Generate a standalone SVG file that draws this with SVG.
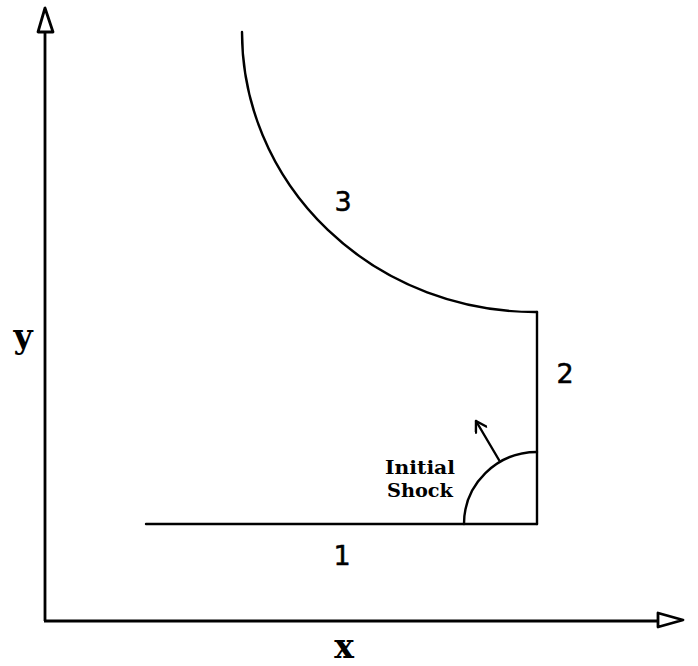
<svg xmlns="http://www.w3.org/2000/svg" width="698" height="666" viewBox="0 0 698 666">
<style>
.ln{fill:none;stroke:#000;stroke-width:2.4;stroke-linecap:round;stroke-linejoin:round}
.ax{fill:none;stroke:#000;stroke-width:2.8}
.head{fill:#fff;stroke:#000;stroke-width:2.8;stroke-linejoin:round}
.num{font-family:"DejaVu Sans",sans-serif;font-size:27px;fill:#000;stroke:#000;stroke-width:0.5;text-anchor:middle}
.axl{font-family:"DejaVu Serif",serif;font-weight:bold;font-size:33px;fill:#000;text-anchor:middle}
.lab{font-family:"DejaVu Serif",serif;font-weight:bold;font-size:19px;fill:#000}
</style>
<defs>
<marker id="vee" markerWidth="14" markerHeight="14" refX="12" refY="7" orient="auto" markerUnits="userSpaceOnUse">
<path d="M2,1 L12,7 L2,13" fill="none" stroke="#000" stroke-width="2.4" stroke-linecap="round" stroke-linejoin="round"/>
</marker>
</defs>
<rect width="698" height="666" fill="#fff"/>
<g id="axes">
<line class="ax" x1="45" y1="32" x2="45" y2="621"/>
<line class="ax" x1="44" y1="621" x2="658" y2="621"/>
<polygon class="head" points="45,8 38,32 53,32"/>
<polygon class="head" points="683,620 658,613 658,627"/>
<text class="axl" x="344" y="658">x</text>
<text class="axl" x="23" y="348">y</text>
</g>
<g id="boundaries">
<line class="ln" x1="146" y1="524" x2="537" y2="524"/>
<line class="ln" x1="537" y1="312" x2="537" y2="524"/>
<path class="ln" d="M242,32 A293,280 0 0 0 535,312 L537,312"/>
<text class="num" x="342" y="565">1</text>
<text class="num" x="565" y="383">2</text>
<text class="num" x="343" y="211">3</text>
</g>
<g id="shock">
<path class="ln" d="M464,524 A73,72 0 0 1 537,452"/>
<line class="ln" x1="499" y1="460" x2="476" y2="421" marker-end="url(#vee)"/>
<text class="lab" x="385" y="474" textLength="70" lengthAdjust="spacingAndGlyphs">Initial</text>
<text class="lab" x="387" y="497" textLength="66" lengthAdjust="spacingAndGlyphs">Shock</text>
</g>
</svg>
